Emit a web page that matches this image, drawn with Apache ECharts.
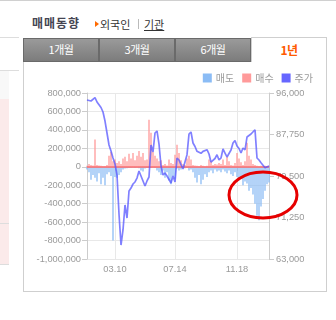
<!DOCTYPE html>
<html>
<head>
<meta charset="utf-8">
<script src="https://cdn.jsdelivr.net/npm/echarts@6/dist/echarts.min.js"></script>
<style>
  html,body{margin:0;padding:0;}
  body{width:336px;height:320px;position:relative;overflow:hidden;background:#fff;font-family:"Noto Sans CJK KR","Noto Sans",sans-serif;}
  .abs{position:absolute;}
  .tab{position:absolute;top:38px;height:24px;width:76px;box-sizing:border-box;background:linear-gradient(#9a9a9a,#7c7c7c);border:1px solid #6a6a6a;color:#fff;font-size:11px;line-height:21px;text-align:center;letter-spacing:-0.5px;}
  .tab.on{top:37px;height:25px;background:#fff;border:1px solid #cfcfcf;border-bottom:none;color:#ff5a00;font-weight:bold;font-size:12px;line-height:23px;}
</style>
</head>
<body>
<div class="abs" style="left:0;top:0;width:336px;height:1px;background:#d0d0d0"></div>
<!-- neighbouring panel (cut off at left) -->
<div class="abs" style="left:0;top:37px;width:19px;height:1px;background:#ddd"></div>
<div class="abs" style="left:0;top:70px;width:19px;height:1px;background:#ddd"></div>
<div class="abs" style="left:0;top:71px;width:9px;height:28px;background:#f8f8f8"></div>
<div class="abs" style="left:0;top:99px;width:9px;height:165px;background:#fbeaea"></div>
<div class="abs" style="left:0;top:223px;width:9px;height:1px;background:#ddd"></div>
<div class="abs" style="left:0;top:264px;width:9px;height:1px;background:#ddd"></div>
<!-- header -->
<div class="abs" style="left:32px;top:15px;font-size:12px;font-weight:bold;color:#454552;letter-spacing:1px;line-height:16px">매매동향</div>
<div class="abs" style="left:95px;top:21px;width:0;height:0;border-top:3px solid transparent;border-bottom:3px solid transparent;border-left:4px solid #ff6a00"></div>
<div class="abs" style="left:100px;top:16px;font-size:11px;color:#333;line-height:16px">외국인</div>
<div class="abs" style="left:138px;top:19px;width:1px;height:10px;background:#bbb"></div>
<div class="abs" style="left:144px;top:16px;font-size:11px;color:#333;line-height:16px;text-decoration:underline">기관</div>
<!-- panel -->
<div class="abs" style="left:23px;top:61px;width:304px;height:231px;box-sizing:border-box;border:1px solid #cfcfcf;"></div>
<div class="tab" style="left:23px">1개월</div>
<div class="tab" style="left:99px">3개월</div>
<div class="tab" style="left:175px">6개월</div>
<div class="tab on" style="left:251px">1년</div>
<div id="chart" class="abs" style="left:0;top:0;width:336px;height:320px"></div>
<script>
// ---- data ----
const tickLabels = ['03.10', '07.14', '11.18'];
const tickIndex = [14, 44, 75];
const legendNames = ['매도', '매수', '주가'];
const leftTicks = { min: -1000000, max: 800000, step: 200000 };
const rightTicks = { min: 63000, max: 96000, step: 8250 };

const price = [94600,94510,94410,94210,95070,94210,94010,93120,92220,90430,
  88050,85660,84470,83080,81890,79700,71950,65780,68770,73740,
  71150,76520,77110,77910,78310,79100,80490,79500,79500,77510,
  78510,79300,85660,84270,88050,88450,85860,81490,79700,80100,
  79500,79300,78110,79500,78310,83080,82680,81750,80890,80990,
  83735,87850,88250,86060,85365,84410,84670,84000,84400,84150,
  84730,83870,82280,82500,82980,83735,82680,83080,84870,84070,
  83280,83180,84670,86060,86560,85460,84970,84070,85070,84670,
  87250,87050,87850,87650,88700,83080,82680,82120,81750,81150,
  81330,81490];

const buyK = [10,30,20,15,295,20,15,10,5,5,
  20,120,160,60,80,40,60,30,90,110,
  60,140,90,150,70,120,170,110,150,70,
  80,510,370,160,120,90,60,70,20,30,
  15,80,40,30,130,240,150,70,30,20,
  90,120,80,20,15,10,5,20,10,5,
  10,80,60,20,30,25,40,30,80,20,
  110,60,20,15,40,150,90,50,20,60,
  260,120,80,30,20,10,5,10,5,10,
  5,10];

const sellK = [-30,-60,-140,-90,-120,-160,-70,-190,-120,-200,
  -80,-60,-100,-800,-110,-120,-90,-60,-30,-20,
  -15,-10,-10,-5,-10,-5,-15,-40,-50,-20,
  -10,-5,-10,-5,-10,-40,-60,-90,-40,-120,
  -60,-150,-190,-100,-130,-20,-40,-30,-10,-15,
  -10,-40,-30,-60,-120,-170,-90,-190,-140,-80,
  -110,-60,-40,-70,-30,-50,-40,-60,-30,-50,
  -70,-40,-80,-100,-60,-110,-150,-120,-200,-160,
  -180,-260,-230,-300,-400,-530,-580,-430,-350,-260,
  -190,-170];

// ---- build ----
const categories = price.map((_, i) => {
  const k = tickIndex.indexOf(i);
  return k >= 0 ? tickLabels[k] : '';
});
const buy = buyK.map(v => v * 1000);
const sell = sellK.map(v => v * 1000);
const showAt = (i) => tickIndex.indexOf(i) >= 0;
const fmt = (v) => Number(v).toLocaleString('en-US');

const chart = echarts.init(document.getElementById('chart'), null, { renderer: 'canvas' });
const labelStyle = { color: '#9a9a9a', fontSize: 9.3, fontFamily: 'Liberation Sans, Arial, sans-serif' };
chart.setOption({
  backgroundColor: 'transparent',
  animation: false,
  grid: { left: 87, right: 67, top: 93, bottom: 61, containLabel: false },
  legend: {
    data: legendNames, right: 18, top: 68, icon: 'rect', itemWidth: 9, itemHeight: 9, itemGap: 8,
    textStyle: { color: '#9a9a9a', fontSize: 10, fontFamily: 'Noto Sans CJK KR', padding: [0, 0, 0, -1] }
  },
  xAxis: {
    type: 'category', data: categories, boundaryGap: false,
    axisLine: { lineStyle: { color: '#cccccc' } },
    axisTick: { show: true, interval: showAt, length: 4, lineStyle: { color: '#cccccc' } },
    axisLabel: Object.assign({ interval: showAt, margin: 6 }, labelStyle),
    splitLine: { show: true, interval: showAt, lineStyle: { color: '#e8e8e8' } }
  },
  yAxis: [
    {
      type: 'value', min: leftTicks.min, max: leftTicks.max, interval: leftTicks.step,
      axisLine: { show: true, lineStyle: { color: '#cccccc' } },
      axisTick: { show: true, length: 5, lineStyle: { color: '#cccccc' } },
      axisLabel: Object.assign({ margin: 6, formatter: fmt }, labelStyle),
      splitLine: { show: true, lineStyle: { color: '#e8e8e8' } }
    },
    {
      type: 'value', min: rightTicks.min, max: rightTicks.max, interval: rightTicks.step,
      position: 'right',
      axisLine: { show: true, lineStyle: { color: '#cccccc' } },
      axisTick: { show: true, length: 5, lineStyle: { color: '#cccccc' } },
      axisLabel: Object.assign({ margin: 7, formatter: fmt }, labelStyle),
      splitLine: { show: false }
    }
  ],
  series: [
    {
      name: legendNames[0], type: 'bar', data: sell, stack: 'flow', barWidth: 1.3,
      itemStyle: { color: '#8bbcf5' }, z: 2
    },
    {
      name: legendNames[1], type: 'bar', data: buy, stack: 'flow', barWidth: 1.3,
      itemStyle: { color: '#ff9a9a' }, z: 2,
      markLine: {
        silent: true, symbol: 'none', label: { show: false },
        lineStyle: { color: '#ff6b6b', width: 1.5, type: 'solid' },
        data: [{ yAxis: 0 }]
      }
    },
    {
      name: legendNames[2], type: 'line', data: price, yAxisIndex: 1,
      showSymbol: false, symbol: 'none',
      lineStyle: { color: 'rgba(85,85,255,0.75)', width: 1.7 },
      itemStyle: { color: '#6666ff' }, z: 5
    }
  ],
  graphic: [{
    type: 'ellipse', z: 100,
    shape: { cx: 263, cy: 195, rx: 34, ry: 23 },
    style: { fill: 'none', stroke: '#e60000', lineWidth: 3 }
  }]
});
</script>
</body>
</html>
